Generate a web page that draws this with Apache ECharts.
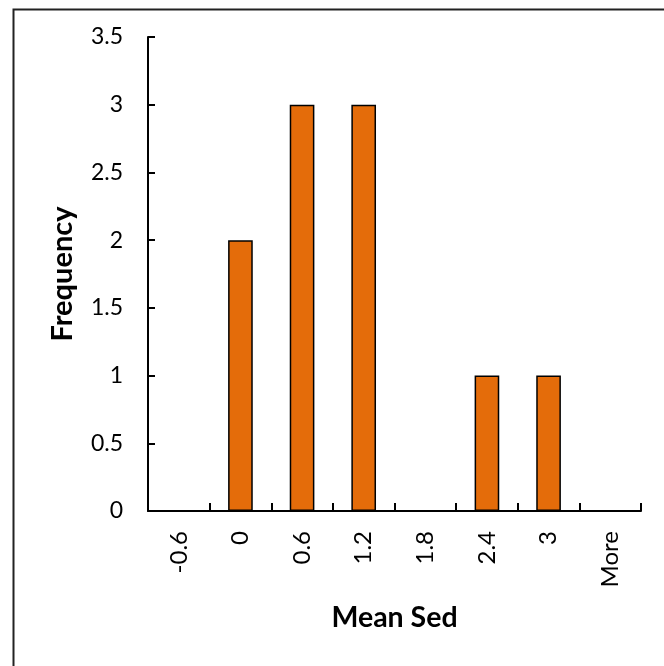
<!DOCTYPE html>
<html>
<head>
<meta charset="utf-8">
<script src="https://cdn.jsdelivr.net/npm/echarts@6/dist/echarts.min.js"></script>
<style>html,body{margin:0;padding:0;background:#fff;}#c{width:664px;height:666px;}</style>
</head>
<body>
<div id="c"></div>
<script>
var categories = ['-0.6', '0', '0.6', '1.2', '1.8', '2.4', '3', 'More'];
var frequency = [0, 2, 3, 3, 0, 1, 1, 0];
var xTitle = 'Mean Sed';
var yTitle = 'Frequency';

var chart = echarts.init(document.getElementById('c'), null, {renderer: 'canvas'});
var font = 'Lato, "Noto Sans", sans-serif';
chart.setOption({
  animation: false,
  backgroundColor: '#fff',
  graphic: [{
    type: 'rect', left: 11, top: 7,
    shape: {width: 700, height: 700},
    style: {fill: 'none', stroke: '#222', lineWidth: 2}
  }],
  grid: {left: 148, top: 37, right: 23, bottom: 155, containLabel: false},
  xAxis: {
    type: 'category',
    data: categories,
    boundaryGap: true,
    name: xTitle,
    nameLocation: 'middle',
    nameGap: 92,
    nameTextStyle: {fontFamily: font, fontSize: 28.5, fontWeight: 'bold', color: '#000'},
    axisLine: {lineStyle: {color: '#000', width: 2}},
    axisTick: {show: true, inside: true, length: 8, lineStyle: {color: '#000', width: 2}},
    axisLabel: {rotate: 90, margin: 20, fontFamily: font, fontSize: 24, color: '#000', interval: 0},
    splitLine: {show: false}
  },
  yAxis: {
    type: 'value',
    min: 0, max: 3.5, interval: 0.5,
    name: yTitle,
    nameLocation: 'middle',
    nameGap: 71,
    nameRotate: 90,
    nameTextStyle: {fontFamily: font, fontSize: 29, fontWeight: 'bold', color: '#000'},
    axisLine: {show: true, lineStyle: {color: '#000', width: 2}},
    axisTick: {show: true, inside: true, length: 7, lineStyle: {color: '#000', width: 2}},
    axisLabel: {margin: 25, fontFamily: font, fontSize: 23, color: '#000'},
    splitLine: {show: false}
  },
  series: [{
    type: 'bar',
    data: frequency,
    barWidth: '40%',
    itemStyle: {color: '#E46C0A', borderColor: '#000', borderWidth: 1.5}
  }]
});
</script>
</body>
</html>
